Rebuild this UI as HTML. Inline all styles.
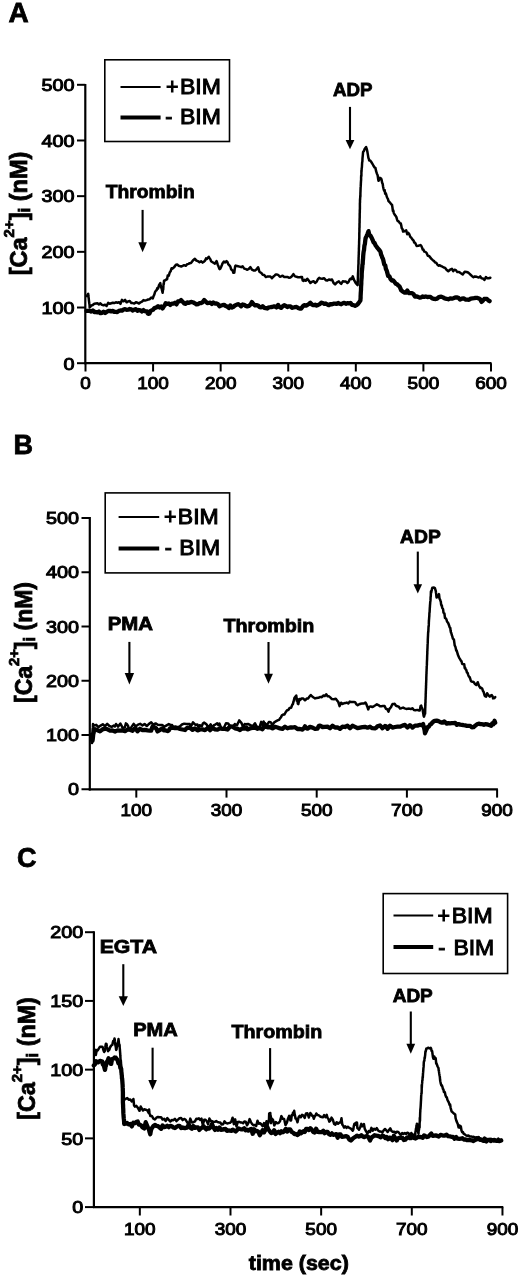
<!DOCTYPE html>
<html><head><meta charset="utf-8"><style>
html,body{margin:0;padding:0;background:#fff;width:520px;height:1278px;overflow:hidden}
svg{display:block}
text{font-family:"Liberation Sans",sans-serif;fill:#000;stroke:#000;stroke-width:0.8px}
text.r{stroke-width:1.0px}
svg{filter:grayscale(1) blur(0.42px)}
</style></head><body>
<svg width="520" height="1278" viewBox="0 0 520 1278" font-family="Liberation Sans, sans-serif">
<text x="8.5" y="22" font-size="28" font-weight="bold" text-anchor="start" >A</text>
<line x1="85.3" y1="84" x2="85.3" y2="364.2" stroke="#000" stroke-width="2.2"/>
<line x1="84.3" y1="363.2" x2="491.5" y2="363.2" stroke="#000" stroke-width="2.2"/>
<line x1="77" y1="363.2" x2="85.3" y2="363.2" stroke="#000" stroke-width="2"/>
<text transform="translate(74.50,369.50) scale(1.15,1)" font-size="17.2" text-anchor="end"  class="r">0</text>
<line x1="77" y1="307.52" x2="85.3" y2="307.52" stroke="#000" stroke-width="2"/>
<text transform="translate(74.50,313.82) scale(1.15,1)" font-size="17.2" text-anchor="end"  class="r">100</text>
<line x1="77" y1="251.84" x2="85.3" y2="251.84" stroke="#000" stroke-width="2"/>
<text transform="translate(74.50,258.14) scale(1.15,1)" font-size="17.2" text-anchor="end"  class="r">200</text>
<line x1="77" y1="196.16" x2="85.3" y2="196.16" stroke="#000" stroke-width="2"/>
<text transform="translate(74.50,202.46) scale(1.15,1)" font-size="17.2" text-anchor="end"  class="r">300</text>
<line x1="77" y1="140.48000000000002" x2="85.3" y2="140.48000000000002" stroke="#000" stroke-width="2"/>
<text transform="translate(74.50,146.78) scale(1.15,1)" font-size="17.2" text-anchor="end"  class="r">400</text>
<line x1="77" y1="84.80000000000001" x2="85.3" y2="84.80000000000001" stroke="#000" stroke-width="2"/>
<text transform="translate(74.50,91.10) scale(1.15,1)" font-size="17.2" text-anchor="end"  class="r">500</text>
<line x1="85.5" y1="363.2" x2="85.5" y2="371.5" stroke="#000" stroke-width="2"/>
<text transform="translate(85.50,389.30) scale(1.1,1)" font-size="17.2" text-anchor="middle"  class="r">0</text>
<line x1="153.07999999999998" y1="363.2" x2="153.07999999999998" y2="371.5" stroke="#000" stroke-width="2"/>
<text transform="translate(153.08,389.30) scale(1.1,1)" font-size="17.2" text-anchor="middle"  class="r">100</text>
<line x1="220.66" y1="363.2" x2="220.66" y2="371.5" stroke="#000" stroke-width="2"/>
<text transform="translate(220.66,389.30) scale(1.1,1)" font-size="17.2" text-anchor="middle"  class="r">200</text>
<line x1="288.24" y1="363.2" x2="288.24" y2="371.5" stroke="#000" stroke-width="2"/>
<text transform="translate(288.24,389.30) scale(1.1,1)" font-size="17.2" text-anchor="middle"  class="r">300</text>
<line x1="355.82" y1="363.2" x2="355.82" y2="371.5" stroke="#000" stroke-width="2"/>
<text transform="translate(355.82,389.30) scale(1.1,1)" font-size="17.2" text-anchor="middle"  class="r">400</text>
<line x1="423.4" y1="363.2" x2="423.4" y2="371.5" stroke="#000" stroke-width="2"/>
<text transform="translate(423.40,389.30) scale(1.1,1)" font-size="17.2" text-anchor="middle"  class="r">500</text>
<line x1="490.97999999999996" y1="363.2" x2="490.97999999999996" y2="371.5" stroke="#000" stroke-width="2"/>
<text transform="translate(490.98,389.30) scale(1.1,1)" font-size="17.2" text-anchor="middle"  class="r">600</text>
<text transform="translate(26.5,275.3) rotate(-90) scale(1.0,1)" font-size="23.5" font-weight="bold">[Ca<tspan font-size="15.0" dy="-12.7">2+</tspan><tspan dy="12.7">]</tspan><tspan font-size="16.9" dy="3.3">i</tspan><tspan dy="-3.3"> (nM)</tspan></text>
<rect x="104.8" y="59.8" width="124.7" height="81.7" fill="none" stroke="#000" stroke-width="1.6"/><line x1="120.5" y1="87" x2="160.6" y2="87" stroke="#000" stroke-width="2"/><line x1="120.5" y1="117.6" x2="160.6" y2="117.6" stroke="#000" stroke-width="4"/><text x="166" y="94" font-size="21.3" text-anchor="start"  class="r">+</text><text x="165.3" y="124.2" font-size="21.3" text-anchor="start"  class="r">-</text><text transform="translate(180.00,94.00) scale(1.08,1)" font-size="21.3" text-anchor="start"  class="r">BIM</text><text transform="translate(180.00,124.20) scale(1.08,1)" font-size="21.3" text-anchor="start"  class="r">BIM</text>
<line x1="142.6" y1="209.9" x2="142.6" y2="243.3" stroke="#000" stroke-width="2.1"/><path d="M138.3,242.3 L146.9,242.3 L142.6,252.2 Z" fill="#000"/>
<line x1="350" y1="106.9" x2="350" y2="141" stroke="#000" stroke-width="2.1"/><path d="M345.6,140.0 L354.4,140.0 L350.0,149.2 Z" fill="#000"/>
<polyline points="86.5,296.0 87.2,295.4 88.0,294.0 88.2,293.7 88.4,296.0 88.6,297.5 88.8,299.0 88.9,300.3 89.1,301.8 89.3,303.5 89.5,304.5 89.7,307.6 91.2,305.7 92.8,305.0 94.3,303.8 95.8,303.5 97.4,303.3 98.9,304.4 100.4,303.4 102.0,304.9 103.5,305.3 105.1,304.8 106.6,305.9 108.2,302.9 109.7,303.8 111.3,303.3 112.8,302.8 114.3,303.1 115.9,302.3 117.4,302.7 119.0,302.2 120.5,303.8 122.0,299.8 123.6,301.3 125.1,299.9 126.6,302.3 128.2,301.4 129.7,300.9 131.3,303.1 132.8,303.1 134.3,303.6 135.9,302.2 137.4,302.7 139.0,303.6 140.5,302.3 142.0,301.7 143.5,300.1 145.0,300.6 146.6,300.1 148.1,299.5 149.7,299.2 151.2,297.6 152.8,298.4 153.6,296.0 154.3,294.6 155.1,291.9 155.8,290.8 156.6,290.2 157.4,288.0 158.1,288.5 158.9,285.5 160.3,283.1 160.8,286.1 161.2,287.6 161.7,288.8 162.1,290.8 162.6,292.7 162.8,291.3 163.0,289.1 163.2,289.8 163.4,286.3 163.6,283.5 163.8,284.1 164.0,280.8 164.2,281.0 166.5,279.4 167.1,279.2 167.7,275.6 168.2,275.5 168.8,275.7 169.7,272.5 170.6,271.3 171.6,268.2 172.5,268.7 173.4,267.8 174.7,266.5 175.9,264.7 177.2,264.5 178.5,265.7 179.9,266.1 181.2,266.5 182.6,265.9 184.1,265.2 185.7,265.8 187.2,264.2 188.5,263.9 189.7,263.2 191.0,263.0 192.9,260.5 194.9,258.8 196.4,260.6 198.0,261.2 199.5,262.3 201.1,261.3 202.6,262.6 204.2,261.4 205.1,260.5 206.0,258.4 207.0,258.9 207.9,257.9 208.8,256.8 209.6,258.1 210.3,259.1 211.1,261.2 211.8,261.7 213.4,262.7 214.9,263.6 216.5,261.1 217.1,262.5 217.7,264.7 218.3,265.9 218.9,267.6 219.5,269.1 220.3,268.6 221.1,267.0 221.8,265.3 222.6,263.2 223.9,261.6 225.2,262.5 226.5,261.1 227.4,262.0 228.4,264.4 229.4,265.4 230.3,266.5 231.1,269.2 231.9,270.1 232.6,270.6 233.4,272.8 233.9,271.6 234.3,272.7 234.8,268.7 235.2,266.3 235.7,265.6 238.0,266.2 239.6,266.6 241.2,267.2 242.7,266.4 244.2,268.6 245.8,269.0 247.3,269.8 248.8,268.9 250.4,267.1 251.9,269.6 253.5,270.4 255.0,270.6 256.6,269.3 258.1,267.2 258.6,268.6 259.1,270.8 259.6,272.0 261.2,272.8 262.7,274.7 264.2,275.0 265.8,277.1 267.3,276.6 268.9,276.4 270.4,276.5 271.9,278.2 273.2,276.8 274.5,275.7 275.8,274.5 277.1,274.5 278.5,275.2 279.9,276.8 281.2,276.3 282.7,275.8 284.2,276.9 285.8,277.1 287.3,276.9 288.8,277.7 290.4,277.4 291.9,276.3 293.4,274.1 295.0,276.4 296.5,276.8 298.1,277.2 299.6,277.3 301.2,277.0 302.0,276.9 302.7,280.5 303.5,281.0 304.6,279.8 305.8,280.8 307.3,278.7 308.9,280.8 310.4,283.0 311.9,281.8 313.5,281.2 315.1,282.9 316.6,281.8 317.9,279.2 319.2,277.9 320.5,278.6 322.3,278.7 324.0,278.2 325.8,280.2 327.4,280.6 328.9,279.5 330.5,280.0 332.0,279.5 333.6,283.0 335.1,284.4 337.0,282.3 338.9,281.4 340.0,282.8 341.2,283.9 342.8,281.3 344.3,281.4 345.9,281.6 347.4,283.0 348.5,282.1 349.6,279.7 350.6,278.6 351.7,279.1 352.8,276.3 353.6,278.9 354.3,280.4 355.1,281.9 355.8,283.2 357.6,285.1 357.7,284.5 357.7,281.5 357.8,281.1 357.8,280.2 357.9,278.3 357.9,277.2 358.0,274.8 358.0,274.4 358.1,272.1 358.2,271.1 358.2,270.2 358.3,268.4 358.3,267.1 358.4,264.5 358.4,265.0 358.5,263.7 358.5,260.7 358.6,259.4 358.6,257.8 358.7,256.5 358.7,255.0 358.8,254.9 358.8,251.9 358.9,251.1 358.9,250.4 358.9,248.2 359.0,247.0 359.0,245.5 359.1,244.3 359.1,242.3 359.2,239.9 359.2,239.2 359.2,239.2 359.3,237.5 359.3,238.7 359.3,234.1 359.3,232.8 359.4,232.3 359.4,230.0 359.4,228.1 359.5,227.6 359.5,224.9 359.5,223.6 359.6,222.9 359.6,222.4 359.6,218.8 359.6,219.5 359.7,217.2 359.7,216.0 359.7,213.6 359.8,212.5 359.8,212.2 359.8,209.8 359.9,209.2 359.9,206.8 359.9,206.1 359.9,203.1 360.0,202.6 360.0,199.5 360.1,200.1 360.1,198.7 360.2,198.0 360.3,195.4 360.4,196.4 360.4,193.4 360.5,191.3 360.6,188.0 360.6,187.7 360.7,186.7 360.8,185.1 360.9,182.0 360.9,182.9 361.0,180.6 361.1,180.2 361.1,177.8 361.2,175.4 361.3,176.4 361.4,175.3 361.4,170.4 361.5,171.9 361.6,170.5 361.7,168.2 361.9,167.3 362.0,165.3 362.1,163.3 362.2,162.2 362.4,161.3 362.5,158.4 362.6,157.4 362.7,156.3 362.9,154.3 363.0,152.9 363.1,152.1 363.9,151.0 364.6,149.1 365.4,148.0 366.1,147.1 366.9,149.5 367.3,151.3 367.7,153.6 368.0,155.4 368.4,157.9 368.8,158.7 369.2,160.6 370.2,160.6 371.3,162.0 372.3,163.6 373.1,165.0 373.8,166.3 374.6,167.5 375.4,167.8 376.1,171.2 376.9,173.7 377.2,174.3 377.4,174.7 377.7,175.7 378.0,177.8 378.2,179.2 378.5,180.8 379.3,179.5 380.0,177.8 380.8,178.6 381.2,178.6 381.6,179.8 382.0,182.1 382.3,183.1 382.7,183.9 383.1,186.7 383.6,189.1 384.1,190.6 384.6,190.0 385.2,193.7 385.7,193.2 386.2,194.5 386.8,196.8 387.4,198.1 387.9,198.9 388.5,201.1 389.5,202.0 390.5,203.2 391.5,204.5 392.0,204.8 392.4,207.1 392.9,211.1 393.3,210.6 393.8,213.1 394.4,214.1 395.1,215.3 395.8,216.1 396.4,217.2 397.1,219.7 397.7,221.0 398.7,221.4 399.8,223.2 400.8,223.5 401.3,225.6 401.7,228.0 402.2,228.8 402.6,229.4 403.1,231.6 404.6,231.2 406.2,230.3 407.2,234.2 408.2,232.8 409.2,234.0 410.4,237.1 411.4,237.8 412.5,239.6 413.5,240.4 414.2,242.5 415.0,242.7 415.8,244.1 416.5,245.9 418.4,245.7 420.4,245.1 421.2,245.7 421.9,247.2 422.7,249.5 423.4,249.4 424.2,251.6 425.4,251.9 426.6,252.9 427.8,255.7 429.0,255.9 430.4,257.6 431.7,259.2 432.8,260.2 434.0,261.1 435.1,262.6 436.2,262.7 437.4,264.6 438.5,265.7 439.8,265.3 441.2,266.1 442.5,266.7 443.8,267.5 445.2,267.9 446.5,269.7 448.3,271.2 450.1,269.7 451.9,268.9 453.2,271.2 454.6,269.7 455.9,270.1 457.3,272.1 459.1,271.9 460.9,273.3 462.7,274.5 464.7,271.7 466.7,272.0 468.1,272.5 469.4,273.7 470.8,275.0 472.1,276.2 473.5,277.2 474.8,276.4 476.8,276.8 478.8,277.6 480.2,276.4 481.5,278.2 482.9,278.4 484.4,280.0 485.9,277.0 487.3,278.3 488.8,278.2 490.3,277.7" fill="none" stroke="#000" stroke-width="2.5" stroke-linejoin="round" stroke-linecap="round"/>
<polyline points="86.6,310.8 88.1,310.9 89.7,310.8 91.2,311.6 92.8,310.5 94.3,312.2 95.8,312.0 97.4,312.4 98.9,311.5 100.5,313.2 102.0,312.8 103.5,311.8 105.1,313.0 106.6,311.9 108.2,311.0 109.7,310.9 111.2,311.4 112.8,310.9 114.3,311.9 115.8,311.8 117.3,312.1 118.9,310.9 120.4,310.5 122.0,310.7 123.5,309.6 125.1,309.2 126.6,309.8 128.2,309.7 129.7,309.0 131.3,309.4 132.8,310.6 134.3,309.5 135.9,309.2 137.4,310.8 138.9,310.0 140.4,310.3 142.0,311.5 143.5,310.1 145.2,311.4 147.0,311.5 147.9,313.7 148.9,313.9 149.4,313.5 150.0,312.3 150.5,310.9 152.8,309.9 154.5,308.1 156.3,307.5 158.0,306.2 159.5,307.5 161.1,306.4 162.6,308.4 163.6,306.6 164.7,305.3 165.7,303.2 167.2,303.9 168.8,303.5 170.3,305.0 171.9,303.6 173.4,303.6 174.9,302.8 176.4,304.4 178.0,301.5 179.5,301.3 181.0,300.1 182.6,301.7 184.1,303.4 185.7,303.8 187.2,302.3 188.8,302.9 190.3,302.2 191.8,302.0 193.4,302.5 194.9,303.3 196.5,304.4 198.0,304.1 199.6,303.2 201.1,303.0 202.6,302.3 204.2,300.1 205.7,301.6 207.2,303.1 208.8,302.9 210.3,302.6 211.8,304.0 213.3,302.4 214.9,303.6 216.4,303.4 218.0,304.2 219.5,306.2 221.0,305.5 222.6,305.2 224.1,304.8 225.7,306.0 227.2,306.6 228.8,308.0 230.3,305.4 231.9,307.6 233.4,306.9 235.0,305.4 236.5,304.8 238.1,304.1 239.6,305.0 241.1,306.3 242.7,304.5 244.2,304.8 245.8,305.9 247.3,306.4 248.8,306.0 250.4,304.7 251.9,302.1 253.5,304.1 255.0,305.4 256.6,305.2 258.1,305.5 259.6,307.2 261.2,307.4 262.7,306.2 264.3,307.8 265.8,308.1 267.3,308.5 268.9,307.3 270.4,307.2 271.9,307.0 273.5,306.5 275.0,306.5 276.5,307.4 278.1,304.9 279.6,307.1 281.1,307.9 282.7,306.3 284.2,305.2 285.8,306.0 287.3,307.0 288.9,306.3 290.4,306.4 291.9,307.8 293.5,307.5 295.0,307.2 296.6,307.0 298.1,307.9 299.6,308.5 301.2,308.5 302.7,306.4 304.2,305.1 305.8,305.7 307.3,305.0 308.9,304.0 310.4,302.8 311.9,304.5 313.5,305.2 315.1,304.7 316.6,305.6 318.1,305.0 319.7,304.1 321.2,302.7 322.8,303.0 324.3,303.9 325.8,303.5 327.4,304.5 328.9,305.2 330.4,304.1 332.0,304.3 333.5,303.7 335.1,303.6 336.6,303.9 338.1,303.0 339.7,303.8 341.2,304.3 342.8,303.3 344.3,302.8 345.9,303.8 347.4,303.1 348.9,303.4 350.5,303.0 352.0,304.8 353.5,305.1 355.1,305.8 356.6,305.1 357.6,304.3 358.5,303.2 360.4,300.6 360.5,298.8 360.6,298.2 360.6,296.1 360.7,294.6 360.8,292.3 360.9,291.5 361.0,289.6 361.0,288.5 361.1,286.2 361.2,285.1 361.3,283.7 361.3,281.5 361.4,280.3 361.5,278.7 361.6,278.1 361.7,275.8 361.7,273.8 361.8,272.5 361.9,270.5 362.0,270.2 362.2,268.0 362.3,267.0 362.4,264.9 362.6,264.0 362.7,264.1 362.8,261.3 363.0,259.3 363.1,257.8 363.2,255.8 363.4,253.7 363.5,252.6 363.7,251.3 364.0,250.2 364.2,247.9 364.4,245.7 364.6,245.0 364.9,244.1 365.1,241.9 365.3,240.2 365.6,238.1 365.8,237.7 366.7,235.9 367.6,233.7 368.5,231.1 369.4,235.1 370.4,235.5 371.2,237.0 371.9,238.3 372.7,240.1 373.5,242.2 374.5,243.0 375.5,245.2 376.5,246.6 378.1,248.7 379.6,250.5 380.1,251.0 380.6,252.3 381.1,254.7 381.7,255.8 382.2,257.5 382.7,258.3 383.2,259.7 383.7,262.0 384.2,264.4 384.8,265.0 385.3,265.5 385.8,268.6 386.3,269.8 386.7,270.5 387.2,272.4 387.6,273.9 388.1,275.9 389.4,276.3 390.6,279.1 391.9,280.6 393.2,280.5 394.5,281.9 395.8,283.7 397.1,284.2 398.3,285.6 399.6,286.5 400.4,288.4 401.2,290.3 402.7,291.4 404.3,292.5 405.8,292.7 407.3,290.6 408.9,293.0 410.4,293.2 411.9,293.1 413.4,294.0 415.0,296.6 416.5,296.4 418.0,296.8 419.6,297.6 421.1,297.3 422.7,296.5 424.2,296.9 425.8,296.5 427.3,297.0 428.8,296.8 430.4,296.9 432.2,298.4 434.0,298.8 435.8,299.0 437.1,298.6 438.5,297.3 439.9,296.8 441.2,296.6 443.0,297.4 444.7,298.4 446.5,298.8 448.3,299.3 450.1,298.4 451.9,298.7 453.3,298.2 454.6,297.7 456.0,297.5 457.3,297.5 458.7,298.1 460.0,299.5 461.8,298.7 463.6,298.3 465.4,299.6 467.2,299.7 469.0,299.8 470.8,298.6 472.5,298.4 474.1,298.2 475.8,297.8 477.5,297.9 478.8,298.4 480.2,299.3 481.5,301.9 482.9,300.6 484.2,299.0 485.6,298.8 486.9,298.9 488.3,300.4 489.6,301.2" fill="none" stroke="#000" stroke-width="4.3" stroke-linejoin="round" stroke-linecap="round"/>
<text transform="translate(105.77,198.10) scale(1.043,1)" font-size="18.5" font-weight="bold" text-anchor="start" >Thrombin</text>
<text transform="translate(332.97,96.10) scale(1.011,1)" font-size="18.5" font-weight="bold" text-anchor="start" >ADP</text>
<text transform="translate(107.65,630.10) scale(1.102,1)" font-size="18.5" font-weight="bold" text-anchor="start" >PMA</text>
<text transform="translate(223.38,631.50) scale(1.066,1)" font-size="18.5" font-weight="bold" text-anchor="start" >Thrombin</text>
<text transform="translate(400.06,542.50) scale(1.043,1)" font-size="18.5" font-weight="bold" text-anchor="start" >ADP</text>
<text transform="translate(99.69,952.90) scale(1.147,1)" font-size="18.5" font-weight="bold" text-anchor="start" >EGTA</text>
<text transform="translate(133.22,1036.00) scale(1.085,1)" font-size="18.5" font-weight="bold" text-anchor="start" >PMA</text>
<text transform="translate(231.39,1037.60) scale(1.065,1)" font-size="18.5" font-weight="bold" text-anchor="start" >Thrombin</text>
<text transform="translate(392.66,1002.00) scale(1.028,1)" font-size="18.5" font-weight="bold" text-anchor="start" >ADP</text>
<text transform="translate(248.75,1270.20) scale(1.072,1)" font-size="20.0" font-weight="bold" text-anchor="start" >time (sec)</text>
<text x="13.5" y="453.5" font-size="27" font-weight="bold" text-anchor="start" >B</text>
<line x1="89.8" y1="517" x2="89.8" y2="790.4" stroke="#000" stroke-width="2.2"/>
<line x1="88.8" y1="789.4" x2="497.9" y2="789.4" stroke="#000" stroke-width="2.2"/>
<line x1="81.5" y1="789.25" x2="89.8" y2="789.25" stroke="#000" stroke-width="2"/>
<text transform="translate(79.00,795.45) scale(1.15,1)" font-size="17.2" text-anchor="end"  class="r">0</text>
<line x1="81.5" y1="735.0" x2="89.8" y2="735.0" stroke="#000" stroke-width="2"/>
<text transform="translate(79.00,741.20) scale(1.15,1)" font-size="17.2" text-anchor="end"  class="r">100</text>
<line x1="81.5" y1="680.75" x2="89.8" y2="680.75" stroke="#000" stroke-width="2"/>
<text transform="translate(79.00,686.95) scale(1.15,1)" font-size="17.2" text-anchor="end"  class="r">200</text>
<line x1="81.5" y1="626.5" x2="89.8" y2="626.5" stroke="#000" stroke-width="2"/>
<text transform="translate(79.00,632.70) scale(1.15,1)" font-size="17.2" text-anchor="end"  class="r">300</text>
<line x1="81.5" y1="572.25" x2="89.8" y2="572.25" stroke="#000" stroke-width="2"/>
<text transform="translate(79.00,578.45) scale(1.15,1)" font-size="17.2" text-anchor="end"  class="r">400</text>
<line x1="81.5" y1="518.0" x2="89.8" y2="518.0" stroke="#000" stroke-width="2"/>
<text transform="translate(79.00,524.20) scale(1.15,1)" font-size="17.2" text-anchor="end"  class="r">500</text>
<line x1="136.3" y1="789.4" x2="136.3" y2="797.6" stroke="#000" stroke-width="2"/>
<text transform="translate(136.30,816.30) scale(1.1,1)" font-size="17.2" text-anchor="middle"  class="r">100</text>
<line x1="226.5" y1="789.4" x2="226.5" y2="797.6" stroke="#000" stroke-width="2"/>
<text transform="translate(226.50,816.30) scale(1.1,1)" font-size="17.2" text-anchor="middle"  class="r">300</text>
<line x1="316.7" y1="789.4" x2="316.7" y2="797.6" stroke="#000" stroke-width="2"/>
<text transform="translate(316.70,816.30) scale(1.1,1)" font-size="17.2" text-anchor="middle"  class="r">500</text>
<line x1="406.9" y1="789.4" x2="406.9" y2="797.6" stroke="#000" stroke-width="2"/>
<text transform="translate(406.90,816.30) scale(1.1,1)" font-size="17.2" text-anchor="middle"  class="r">700</text>
<line x1="497.1" y1="789.4" x2="497.1" y2="797.6" stroke="#000" stroke-width="2"/>
<text transform="translate(497.10,816.30) scale(1.1,1)" font-size="17.2" text-anchor="middle"  class="r">900</text>
<text transform="translate(31.7,703) rotate(-90) scale(1.0,1)" font-size="23" font-weight="bold">[Ca<tspan font-size="14.7" dy="-12.4">2+</tspan><tspan dy="12.4">]</tspan><tspan font-size="16.6" dy="3.2">i</tspan><tspan dy="-3.2"> (nM)</tspan></text>
<rect x="105.2" y="492.9" width="124.39999999999999" height="80.0" fill="none" stroke="#000" stroke-width="1.6"/><line x1="118.6" y1="516.9" x2="159.2" y2="516.9" stroke="#000" stroke-width="2"/><line x1="118.6" y1="548.6" x2="159.2" y2="548.6" stroke="#000" stroke-width="4"/><text x="164.1" y="524.3" font-size="21.3" text-anchor="start"  class="r">+</text><text x="164.7" y="555.4" font-size="21.3" text-anchor="start"  class="r">-</text><text transform="translate(177.80,524.30) scale(1.08,1)" font-size="21.3" text-anchor="start"  class="r">BIM</text><text transform="translate(179.30,555.40) scale(1.08,1)" font-size="21.3" text-anchor="start"  class="r">BIM</text>
<line x1="129.4" y1="641.9" x2="129.4" y2="674" stroke="#000" stroke-width="2.1"/><path d="M124.7,673.0 L134.1,673.0 L129.4,684.6 Z" fill="#000"/>
<line x1="268.5" y1="642" x2="268.5" y2="674.8" stroke="#000" stroke-width="2.1"/><path d="M264.1,673.8 L272.9,673.8 L268.5,683.7 Z" fill="#000"/>
<line x1="417.8" y1="551.6" x2="417.8" y2="585.2" stroke="#000" stroke-width="2.1"/><path d="M413.5,584.2 L422.1,584.2 L417.8,593.5 Z" fill="#000"/>
<polyline points="91.0,738.0 91.5,740.1 92.0,743.1 92.1,742.3 92.2,738.9 92.2,738.7 92.3,736.3 92.4,734.6 92.5,733.1 92.6,730.7 92.7,728.5 92.8,731.0 92.8,728.2 92.9,727.4 93.0,724.0 94.0,725.6 96.2,724.8 98.4,727.2 100.6,725.6 102.8,724.3 105.0,726.2 107.2,723.8 109.4,726.0 111.6,726.9 113.8,725.6 114.9,726.5 116.0,724.0 118.2,726.6 120.4,723.6 121.5,725.6 122.6,727.9 124.8,727.5 125.9,723.4 127.0,724.3 128.1,725.9 129.2,730.3 131.4,727.1 133.6,723.9 135.8,726.3 138.0,724.7 140.2,723.8 142.4,725.4 144.6,724.0 146.8,726.0 149.0,723.9 151.2,722.4 153.4,724.9 155.6,723.4 157.8,724.8 160.0,725.0 162.2,724.9 164.4,726.8 166.6,725.4 168.8,724.1 171.0,725.2 172.1,725.1 173.2,727.3 175.4,726.4 177.6,727.1 179.8,726.5 182.0,724.5 184.2,723.7 186.4,723.9 188.6,723.9 189.7,724.1 190.8,726.7 193.0,722.4 195.2,724.7 197.4,724.5 198.5,727.7 199.6,725.2 201.8,726.2 202.9,723.5 204.0,722.6 206.2,724.1 207.3,725.6 208.4,727.6 210.6,724.4 212.8,727.9 213.9,725.1 215.0,724.8 217.2,723.3 218.3,725.1 219.4,723.5 221.6,729.0 223.8,728.0 226.0,723.3 228.2,723.4 229.3,725.1 230.4,727.2 232.6,726.0 233.7,726.3 234.8,724.0 237.0,725.3 239.2,720.4 241.4,722.8 242.5,725.6 243.6,726.7 244.7,724.1 245.8,724.2 248.0,724.0 250.0,724.9 251.7,725.8 253.3,725.5 255.0,723.3 256.5,726.4 258.1,727.2 259.6,727.0 261.2,721.9 262.7,725.5 263.6,721.4 264.6,723.8 265.2,723.4 265.9,724.4 266.5,726.6 267.7,723.9 268.8,722.1 270.0,722.0 271.1,722.6 272.3,725.6 274.2,722.3 276.2,721.2 278.1,720.2 279.1,719.8 280.0,718.3 280.9,717.4 281.9,715.4 283.2,714.6 284.5,714.4 285.8,712.0 287.1,710.2 288.3,710.0 289.6,708.0 291.1,707.8 292.5,704.3 292.9,704.1 293.3,702.4 293.6,701.5 294.0,699.7 294.4,698.1 296.3,695.5 296.8,700.8 297.3,698.7 297.8,703.7 298.3,704.2 298.9,701.3 299.6,699.0 300.2,700.0 301.6,698.4 303.1,698.4 305.0,700.3 306.9,698.5 308.2,698.4 309.5,696.5 310.8,695.0 312.2,696.5 313.6,697.5 315.1,698.4 316.5,698.0 318.4,697.8 320.4,696.9 321.8,697.2 323.3,695.5 324.8,696.1 326.2,694.3 327.6,696.3 329.0,696.3 330.5,697.7 331.9,699.1 333.9,699.2 335.8,698.7 337.1,700.4 338.3,702.0 339.6,706.1 341.1,702.7 342.5,704.0 343.9,703.3 345.4,703.1 346.8,702.6 348.3,703.5 349.8,701.6 351.2,702.0 353.8,701.9 355.1,702.2 356.4,704.2 357.7,705.2 359.2,704.3 360.8,703.8 362.3,703.4 363.9,703.5 365.4,702.5 366.3,704.0 367.3,706.7 368.2,709.4 369.2,707.0 370.7,706.4 372.3,707.0 373.8,706.3 375.4,705.3 376.9,704.3 378.4,705.1 380.0,706.3 381.5,706.3 383.1,705.9 384.6,706.1 385.9,708.8 387.2,709.2 388.5,711.6 389.3,709.1 390.1,708.1 390.9,707.4 391.7,705.6 392.5,704.1 393.3,704.1 394.6,703.8 396.0,705.8 397.3,706.2 398.7,706.6 400.0,708.4 401.5,708.2 403.1,707.6 404.6,708.4 406.2,708.9 407.7,708.7 409.2,708.6 410.8,709.1 412.3,708.2 413.9,710.0 415.4,710.3 417.3,709.9 419.2,710.6 419.7,710.5 420.2,708.1 420.7,705.8 421.2,705.6 421.6,707.4 421.9,707.7 422.2,708.4 422.6,709.2 422.9,711.5 423.3,713.5 423.6,715.8 424.0,716.7 425.0,713.1 425.1,712.5 425.1,713.8 425.2,709.5 425.2,708.8 425.3,707.5 425.3,703.6 425.4,705.5 425.4,702.6 425.5,702.8 425.5,699.4 425.6,699.4 425.6,697.9 425.7,696.2 425.7,693.7 425.8,693.4 425.8,691.6 425.9,690.1 425.9,688.8 426.0,687.9 426.0,685.8 426.1,685.3 426.1,683.4 426.2,682.1 426.2,681.0 426.3,679.7 426.3,678.1 426.4,675.1 426.4,674.5 426.5,673.7 426.5,672.0 426.6,670.8 426.6,670.0 426.7,668.0 426.7,666.5 426.8,665.7 426.9,664.7 426.9,663.2 427.0,660.3 427.0,661.2 427.1,658.7 427.1,658.2 427.2,655.0 427.3,654.0 427.3,651.1 427.4,651.0 427.4,649.2 427.5,648.2 427.5,647.7 427.6,644.7 427.7,643.4 427.7,643.4 427.8,640.8 427.8,639.3 427.9,637.7 427.9,637.4 428.0,635.7 428.1,633.5 428.2,631.5 428.3,632.3 428.4,630.0 428.5,627.7 428.6,626.2 428.7,626.5 428.8,624.9 428.9,620.2 428.9,621.9 429.0,619.8 429.1,618.7 429.2,617.1 429.3,616.3 429.4,613.0 429.5,612.4 429.6,612.4 429.7,610.1 429.8,607.9 429.9,607.0 430.0,604.9 430.1,604.3 430.2,602.4 430.4,601.0 430.5,600.1 430.6,596.8 430.7,596.8 430.8,595.6 430.9,591.5 431.2,592.8 431.5,591.0 431.7,590.4 432.0,588.9 432.3,587.7 434.0,587.6 434.9,588.1 435.8,591.2 436.0,593.0 436.2,593.8 436.4,596.3 436.6,597.5 437.5,596.6 438.4,595.9 439.0,594.1 439.5,598.6 440.1,599.6 440.4,600.8 440.8,601.5 441.1,604.3 441.5,605.5 441.8,605.3 442.2,607.9 442.7,608.5 443.1,609.3 443.5,612.7 444.0,613.2 444.4,613.5 445.0,618.0 445.7,618.4 446.4,619.2 447.0,621.5 447.6,622.3 448.3,623.3 449.0,625.2 449.6,627.0 449.9,627.7 450.3,627.9 450.6,630.8 451.0,632.7 451.3,633.0 451.8,635.0 452.3,636.4 452.9,638.7 453.4,639.2 453.9,639.4 454.3,642.3 454.7,645.4 455.0,646.0 455.4,646.8 455.8,648.5 456.2,650.5 456.7,650.6 457.2,652.3 457.7,654.2 458.2,655.4 459.2,657.9 460.2,659.4 460.9,660.8 461.5,661.3 462.2,663.9 464.2,664.2 464.7,668.0 465.1,667.6 465.6,669.4 466.3,670.0 466.9,672.4 467.6,672.8 468.3,675.1 468.9,676.6 469.6,677.0 470.3,679.0 470.9,681.0 471.6,681.6 473.6,682.0 475.0,684.0 476.3,685.0 477.7,682.2 479.0,685.9 480.4,688.0 481.3,687.8 482.2,688.7 483.1,691.3 483.6,691.7 484.1,693.7 484.6,695.5 485.1,696.2 486.1,696.7 487.1,693.3 488.5,695.4 489.8,696.7 490.8,695.4 491.8,695.1 492.5,696.1 493.1,698.4 493.8,697.6 494.5,698.1 495.2,697.1" fill="none" stroke="#000" stroke-width="2.5" stroke-linejoin="round" stroke-linecap="round"/>
<polyline points="91.0,735.0 91.5,736.7 92.0,738.6 92.5,740.6 92.8,738.6 93.0,736.7 93.2,734.5 93.5,733.5 93.8,731.9 94.0,730.6 95.0,729.1 97.5,730.2 100.0,731.4 102.5,729.4 105.0,728.6 107.5,729.3 110.0,730.6 112.5,730.5 115.0,731.5 117.5,730.4 120.0,730.7 122.5,730.4 125.0,731.2 127.5,729.5 130.0,729.7 131.2,730.3 132.5,730.8 133.8,729.4 135.0,728.2 136.2,729.2 137.5,731.3 138.8,730.0 140.0,728.8 142.5,730.2 145.0,729.8 147.5,730.3 150.0,730.7 151.2,730.7 152.5,726.6 155.0,727.6 156.2,728.4 157.5,731.4 160.0,729.9 162.5,728.4 163.8,730.4 165.0,730.2 167.5,731.1 168.8,730.3 170.0,728.3 172.5,727.6 175.0,728.2 177.5,728.1 180.0,729.0 182.5,729.5 185.0,730.0 186.2,728.6 187.5,727.6 190.0,727.8 192.5,729.9 195.0,728.4 197.5,730.4 200.0,729.4 202.5,729.4 205.0,730.1 207.5,728.2 208.8,727.4 210.0,730.3 212.5,727.9 215.0,729.3 217.5,729.6 220.0,728.3 222.5,728.8 225.0,728.9 227.5,729.5 230.0,726.5 232.5,726.6 235.0,728.3 237.5,728.8 240.0,730.0 242.5,728.3 245.0,728.5 246.2,727.5 247.5,729.4 250.0,728.4 252.5,728.0 255.0,727.6 257.5,728.8 260.0,728.0 262.5,729.2 263.8,727.1 265.0,726.4 267.5,727.3 270.0,727.0 272.5,728.4 273.8,727.6 275.0,726.8 277.5,727.5 280.0,728.4 282.5,728.8 285.0,726.7 287.5,728.3 290.0,727.5 292.5,727.5 295.0,727.1 297.5,729.0 300.0,729.0 302.5,729.6 303.8,728.3 305.0,726.3 306.2,728.2 307.5,728.6 310.0,726.9 312.5,727.6 315.0,728.9 317.5,728.7 318.8,725.8 320.0,725.6 322.5,727.0 325.0,726.9 327.5,726.6 330.0,728.2 332.5,725.7 335.0,727.5 337.5,727.4 340.0,728.8 342.5,726.6 345.0,727.0 347.5,725.7 350.0,728.3 352.5,725.8 355.0,726.9 357.5,728.2 360.0,727.7 362.5,727.2 365.0,726.8 367.5,727.7 370.0,726.7 371.2,727.6 372.5,728.2 375.0,728.4 376.2,727.7 377.5,726.3 380.0,725.4 382.5,728.2 385.0,726.0 386.2,726.4 387.5,728.8 390.0,725.7 392.5,727.6 395.0,727.0 397.5,726.6 400.0,726.7 402.5,725.6 405.0,724.9 407.5,727.5 410.0,725.2 411.2,726.1 412.5,727.6 415.0,725.6 417.5,725.6 420.0,724.8 421.6,725.3 423.1,724.0 423.5,725.4 423.9,726.6 424.2,728.6 424.6,730.3 425.0,733.3 425.9,731.1 426.9,728.8 427.9,726.9 428.8,726.8 430.0,724.7 431.1,724.1 432.3,722.6 433.4,721.6 434.6,720.8 436.6,720.7 438.5,721.2 439.9,721.9 441.4,722.5 442.8,722.6 444.2,721.4 446.7,723.6 448.4,723.1 450.1,723.3 451.8,723.1 453.5,723.1 455.2,722.8 456.9,724.9 458.5,724.1 460.2,724.6 461.9,724.8 463.5,725.2 465.2,725.4 466.9,725.8 468.6,725.8 470.2,725.9 471.9,727.3 473.6,727.2 475.3,725.7 477.0,724.3 478.7,723.7 480.4,724.1 482.1,724.2 483.8,724.8 485.4,724.1 487.1,724.4 489.1,725.0 491.1,725.7 492.2,723.4 493.4,724.2 494.5,720.8 495.2,722.7" fill="none" stroke="#000" stroke-width="4.3" stroke-linejoin="round" stroke-linecap="round"/>
<text x="17" y="867.3" font-size="27" font-weight="bold" text-anchor="start" >C</text>
<line x1="93.9" y1="931.2" x2="93.9" y2="1208.1" stroke="#000" stroke-width="2.2"/>
<line x1="92.9" y1="1207.1" x2="503.3" y2="1207.1" stroke="#000" stroke-width="2.2"/>
<line x1="85" y1="1207.1" x2="93.9" y2="1207.1" stroke="#000" stroke-width="2"/>
<text transform="translate(83.20,1213.30) scale(1.15,1)" font-size="17.2" text-anchor="end"  class="r">0</text>
<line x1="85" y1="1138.375" x2="93.9" y2="1138.375" stroke="#000" stroke-width="2"/>
<text transform="translate(83.20,1144.58) scale(1.15,1)" font-size="17.2" text-anchor="end"  class="r">50</text>
<line x1="85" y1="1069.6499999999999" x2="93.9" y2="1069.6499999999999" stroke="#000" stroke-width="2"/>
<text transform="translate(83.20,1075.85) scale(1.15,1)" font-size="17.2" text-anchor="end"  class="r">100</text>
<line x1="85" y1="1000.925" x2="93.9" y2="1000.925" stroke="#000" stroke-width="2"/>
<text transform="translate(83.20,1007.12) scale(1.15,1)" font-size="17.2" text-anchor="end"  class="r">150</text>
<line x1="85" y1="932.1999999999998" x2="93.9" y2="932.1999999999998" stroke="#000" stroke-width="2"/>
<text transform="translate(83.20,938.40) scale(1.15,1)" font-size="17.2" text-anchor="end"  class="r">200</text>
<line x1="139.82999999999998" y1="1207.1" x2="139.82999999999998" y2="1215.5" stroke="#000" stroke-width="2"/>
<text transform="translate(139.83,1235.30) scale(1.1,1)" font-size="17.2" text-anchor="middle"  class="r">100</text>
<line x1="230.48999999999998" y1="1207.1" x2="230.48999999999998" y2="1215.5" stroke="#000" stroke-width="2"/>
<text transform="translate(230.49,1235.30) scale(1.1,1)" font-size="17.2" text-anchor="middle"  class="r">300</text>
<line x1="321.15" y1="1207.1" x2="321.15" y2="1215.5" stroke="#000" stroke-width="2"/>
<text transform="translate(321.15,1235.30) scale(1.1,1)" font-size="17.2" text-anchor="middle"  class="r">500</text>
<line x1="411.81" y1="1207.1" x2="411.81" y2="1215.5" stroke="#000" stroke-width="2"/>
<text transform="translate(411.81,1235.30) scale(1.1,1)" font-size="17.2" text-anchor="middle"  class="r">700</text>
<line x1="502.46999999999997" y1="1207.1" x2="502.46999999999997" y2="1215.5" stroke="#000" stroke-width="2"/>
<text transform="translate(502.47,1235.30) scale(1.1,1)" font-size="17.2" text-anchor="middle"  class="r">900</text>
<text transform="translate(34.9,1119.8) rotate(-90) scale(1.0,1)" font-size="23.3" font-weight="bold">[Ca<tspan font-size="14.9" dy="-12.6">2+</tspan><tspan dy="12.6">]</tspan><tspan font-size="16.8" dy="3.3">i</tspan><tspan dy="-3.3"> (nM)</tspan></text>
<rect x="383.2" y="893.6" width="124.40000000000003" height="79.89999999999998" fill="none" stroke="#000" stroke-width="1.6"/><line x1="393.5" y1="915.6" x2="433.2" y2="915.6" stroke="#000" stroke-width="2"/><line x1="393.5" y1="947" x2="433.2" y2="947" stroke="#000" stroke-width="4"/><text x="437.6" y="922.8" font-size="21.3" text-anchor="start"  class="r">+</text><text x="438.2" y="954.5" font-size="21.3" text-anchor="start"  class="r">-</text><text transform="translate(451.70,922.80) scale(1.08,1)" font-size="21.3" text-anchor="start"  class="r">BIM</text><text transform="translate(453.40,954.50) scale(1.08,1)" font-size="21.3" text-anchor="start"  class="r">BIM</text>
<line x1="123.3" y1="964.2" x2="123.3" y2="997.3" stroke="#000" stroke-width="2.1"/><path d="M118.7,996.3 L127.9,996.3 L123.3,1006.0 Z" fill="#000"/>
<line x1="152.6" y1="1047.7" x2="152.6" y2="1081" stroke="#000" stroke-width="2.1"/><path d="M148.3,1080.0 L156.9,1080.0 L152.6,1090.0 Z" fill="#000"/>
<line x1="270.1" y1="1048.1" x2="270.1" y2="1080.8" stroke="#000" stroke-width="2.1"/><path d="M265.7,1079.8 L274.5,1079.8 L270.1,1090.4 Z" fill="#000"/>
<line x1="410.8" y1="1011.5" x2="410.8" y2="1044.8" stroke="#000" stroke-width="2.1"/><path d="M406.4,1043.8 L415.2,1043.8 L410.8,1053.8 Z" fill="#000"/>
<polyline points="94.2,1049.2 94.7,1049.7 95.3,1051.0 95.8,1055.1 96.8,1049.9 97.7,1050.4 98.8,1048.6 100.0,1046.7 102.3,1046.7 102.8,1047.6 103.2,1049.6 103.7,1050.9 104.2,1052.0 104.5,1049.9 104.8,1051.0 105.1,1048.5 105.3,1047.4 105.6,1045.1 105.9,1043.7 106.2,1044.9 106.5,1044.0 106.8,1046.2 107.2,1048.7 107.5,1048.2 107.8,1050.5 108.1,1051.1 108.7,1050.3 109.4,1049.6 110.0,1047.5 111.2,1045.5 112.3,1044.9 112.7,1043.0 113.2,1041.0 113.6,1040.7 114.1,1040.7 114.5,1038.5 114.7,1039.2 114.9,1041.2 115.0,1041.8 115.2,1044.4 115.4,1045.3 115.8,1047.0 116.1,1050.0 116.5,1049.5 116.8,1046.8 117.1,1046.5 117.4,1045.0 117.6,1043.2 117.9,1042.5 118.2,1041.6 118.5,1039.1 118.8,1041.3 119.0,1044.2 119.3,1044.4 119.6,1045.0 119.7,1047.5 119.8,1048.5 119.9,1049.4 120.0,1050.9 120.1,1052.4 120.2,1053.4 120.3,1055.7 120.4,1056.7 120.5,1059.0 120.7,1061.2 120.8,1060.2 121.0,1062.5 121.1,1065.0 121.2,1065.7 121.4,1067.2 121.5,1068.1 121.6,1069.6 121.6,1070.1 121.7,1072.6 121.7,1073.1 121.8,1073.3 121.9,1076.0 121.9,1077.0 122.0,1079.3 122.1,1079.7 122.1,1081.7 122.2,1082.8 122.2,1083.5 122.3,1084.6 122.3,1086.9 122.4,1088.1 122.4,1089.9 122.4,1091.6 122.4,1092.6 122.5,1094.3 122.5,1094.6 122.5,1095.0 122.6,1097.3 122.6,1099.5 124.1,1099.9 125.7,1098.8 127.2,1098.0 128.7,1099.7 130.3,1099.4 131.8,1101.4 132.6,1101.1 133.4,1099.0 134.1,1105.5 134.9,1106.6 136.4,1105.9 138.0,1108.1 139.5,1110.8 140.7,1106.5 141.8,1108.5 143.0,1110.5 144.2,1109.3 145.7,1109.7 147.3,1110.4 148.8,1113.1 149.1,1109.6 149.4,1112.2 149.7,1113.6 150.0,1114.5 150.3,1116.0 151.8,1115.9 153.4,1118.7 154.9,1119.5 156.4,1117.7 158.0,1117.0 159.5,1117.3 161.1,1117.2 162.6,1119.5 164.2,1118.8 165.7,1121.0 167.3,1118.1 168.8,1119.8 170.3,1121.5 171.9,1120.0 173.4,1120.2 174.9,1118.8 176.4,1121.1 178.0,1119.6 179.5,1118.3 181.1,1118.1 182.6,1120.1 184.2,1118.9 185.7,1119.8 187.2,1122.3 188.8,1124.5 190.3,1118.6 191.9,1122.5 193.4,1122.2 195.0,1121.4 196.3,1118.8 197.6,1119.0 198.9,1118.4 200.2,1119.9 201.5,1118.7 202.8,1125.1 204.2,1119.7 205.5,1119.8 206.8,1121.3 208.1,1124.3 209.4,1118.5 210.7,1120.8 212.0,1121.2 213.4,1121.9 214.8,1121.8 216.2,1121.1 217.5,1122.0 218.9,1122.4 220.3,1122.5 221.7,1124.6 223.1,1124.3 224.5,1121.4 225.8,1122.8 227.2,1123.5 228.6,1123.1 230.0,1122.8 231.3,1121.6 232.6,1117.7 233.9,1124.2 235.2,1119.4 236.5,1126.4 237.8,1121.9 239.2,1121.8 240.5,1122.4 241.8,1122.5 243.1,1123.3 244.4,1121.5 245.7,1121.7 247.0,1125.3 248.3,1123.2 249.6,1119.1 250.9,1122.1 252.2,1124.1 253.5,1125.2 254.8,1124.9 256.2,1125.9 257.5,1120.8 258.8,1123.8 260.1,1123.2 261.4,1124.5 262.7,1126.3 264.0,1123.1 265.2,1126.9 266.5,1121.2 267.8,1124.2 269.0,1119.3 269.2,1113.4 269.4,1115.6 269.6,1118.5 269.9,1118.9 270.1,1114.6 270.3,1113.1 270.5,1118.9 270.7,1115.8 270.9,1123.1 271.1,1117.5 271.3,1121.1 271.5,1118.4 272.9,1119.6 274.3,1125.4 275.8,1122.1 277.2,1123.2 278.6,1123.0 280.0,1121.2 281.4,1116.1 282.8,1118.8 284.1,1119.0 285.5,1125.0 286.9,1122.6 288.1,1118.4 289.2,1115.8 290.4,1120.5 291.1,1120.4 291.8,1115.0 292.4,1115.2 293.1,1112.4 293.8,1115.1 294.2,1110.8 294.7,1114.4 295.1,1115.9 295.5,1118.5 296.0,1118.4 296.4,1119.1 297.5,1122.3 298.6,1117.2 299.7,1115.8 300.8,1117.3 302.1,1114.8 303.4,1115.6 304.7,1118.0 306.0,1113.4 307.4,1113.3 308.9,1117.5 310.3,1113.0 311.2,1114.1 312.0,1115.8 312.9,1115.8 313.8,1118.7 314.6,1116.6 315.4,1115.6 316.3,1113.5 317.6,1115.0 318.9,1115.4 320.2,1116.5 321.5,1117.0 322.8,1117.3 324.1,1115.1 325.4,1117.2 326.7,1114.9 327.6,1118.0 328.4,1118.9 329.3,1121.6 330.2,1120.8 331.5,1117.6 332.8,1119.7 334.1,1123.9 335.4,1124.7 336.7,1122.2 338.0,1123.8 339.3,1122.6 340.6,1122.5 341.5,1118.3 342.3,1124.6 343.1,1125.5 344.0,1127.6 345.3,1126.3 346.6,1127.9 347.9,1126.8 349.2,1127.9 350.9,1128.6 352.7,1130.7 353.3,1129.7 353.8,1126.0 354.4,1123.9 355.0,1123.6 355.5,1123.0 356.1,1124.9 356.6,1122.4 357.0,1122.6 357.4,1128.2 357.9,1128.4 359.0,1129.7 360.2,1127.2 361.3,1123.9 362.2,1126.3 363.1,1125.4 363.9,1124.0 364.8,1128.9 366.1,1131.4 367.4,1133.6 368.7,1131.1 370.0,1132.0 371.4,1127.9 372.7,1130.7 374.1,1128.7 375.5,1129.6 376.8,1128.2 378.2,1130.6 379.6,1131.6 380.9,1131.6 382.3,1132.6 383.6,1130.3 385.0,1129.0 386.3,1130.3 387.6,1132.0 389.0,1130.0 390.3,1128.4 391.6,1131.2 392.9,1131.8 394.3,1131.7 395.6,1133.0 396.9,1131.7 398.3,1131.9 399.6,1133.6 400.9,1134.9 402.2,1133.1 403.5,1133.9 404.8,1133.1 406.1,1134.1 407.4,1132.7 408.7,1133.4 410.0,1136.7 411.3,1133.0 412.6,1134.9 413.9,1134.6 415.2,1135.5 415.4,1132.0 415.6,1131.5 415.8,1130.0 416.0,1128.3 416.3,1127.8 416.5,1125.2 416.7,1124.6 416.9,1123.7 417.1,1123.9 417.3,1126.3 417.5,1126.8 417.6,1128.5 417.8,1130.5 418.0,1131.6 418.2,1132.5 418.5,1133.7 418.7,1130.5 419.0,1129.8 419.2,1127.8 419.5,1124.8 419.6,1127.6 419.6,1123.8 419.7,1122.0 419.8,1122.0 419.8,1117.7 419.9,1117.8 420.0,1120.7 420.1,1115.7 420.1,1115.7 420.2,1112.5 420.3,1111.6 420.3,1110.9 420.4,1108.8 420.5,1109.0 420.6,1107.1 420.7,1106.0 420.8,1103.9 420.8,1104.1 420.9,1101.9 421.0,1100.5 421.1,1098.4 421.2,1095.7 421.3,1094.9 421.4,1093.3 421.5,1093.2 421.6,1093.5 421.7,1090.0 421.7,1085.1 421.8,1088.0 421.9,1086.2 422.0,1083.9 422.1,1083.5 422.2,1082.7 422.3,1080.3 422.5,1080.2 422.6,1077.6 422.7,1076.6 422.8,1077.8 423.0,1073.4 423.1,1072.7 423.2,1071.4 423.3,1070.1 423.4,1068.4 423.6,1066.9 423.7,1064.9 423.8,1062.3 424.0,1061.2 424.2,1061.0 424.4,1060.5 424.6,1057.5 424.8,1058.0 425.0,1056.2 425.2,1054.8 425.4,1051.6 425.6,1051.9 426.4,1048.4 427.3,1048.4 428.1,1047.7 429.4,1048.4 430.7,1047.8 431.1,1048.6 431.6,1050.9 432.1,1050.9 432.5,1053.7 432.9,1056.9 433.4,1058.8 433.8,1058.7 434.2,1056.4 434.6,1058.1 435.1,1058.4 435.4,1057.8 435.7,1058.3 436.0,1061.4 436.2,1063.7 436.5,1063.3 436.8,1064.2 437.6,1066.5 438.5,1068.1 438.7,1070.7 438.9,1070.7 439.0,1071.9 439.2,1073.4 439.4,1074.5 439.6,1075.8 439.8,1076.4 439.9,1077.7 440.1,1080.0 440.3,1081.2 440.8,1083.7 441.3,1085.3 441.9,1085.3 442.4,1086.8 442.9,1089.1 443.4,1089.3 443.9,1092.1 444.4,1091.6 444.9,1092.6 445.4,1095.0 446.1,1096.9 446.8,1097.3 447.4,1099.8 448.1,1101.2 448.6,1101.9 449.1,1103.4 449.6,1105.0 450.1,1104.4 450.6,1107.7 451.1,1109.6 451.6,1111.5 452.1,1111.8 453.5,1113.2 454.8,1114.1 455.2,1114.3 455.6,1118.1 456.0,1119.5 456.4,1120.8 456.8,1121.9 457.7,1123.7 458.6,1127.4 459.5,1125.5 460.2,1127.8 460.8,1126.3 461.5,1130.5 462.2,1132.2 462.9,1132.1 463.6,1133.7 464.8,1134.4 466.0,1135.4 467.2,1135.9 468.4,1135.5 469.6,1136.5 471.0,1136.4 472.3,1136.9 473.6,1136.7 475.0,1137.7 476.4,1137.3 477.7,1138.2 479.0,1137.5 480.4,1139.2 481.7,1138.9 483.1,1139.5 484.4,1137.5 485.8,1138.4 487.1,1139.4 488.4,1139.8 489.8,1138.9 491.1,1138.8 492.5,1140.4 494.0,1138.9 495.4,1139.4 496.9,1140.5 498.3,1138.6 499.8,1139.9 501.2,1139.8" fill="none" stroke="#000" stroke-width="2.5" stroke-linejoin="round" stroke-linecap="round"/>
<polyline points="93.8,1065.4 95.0,1064.2 96.2,1061.2 98.1,1062.4 100.0,1060.8 102.3,1061.6 102.8,1064.4 103.4,1065.0 103.9,1065.8 104.5,1068.1 105.0,1069.9 105.3,1068.1 105.6,1065.6 105.9,1066.0 106.2,1064.3 106.5,1062.6 107.2,1061.3 107.8,1060.5 108.5,1058.3 109.1,1059.1 109.7,1062.6 110.2,1062.5 110.8,1063.9 111.2,1063.8 111.5,1062.0 111.9,1060.3 112.3,1059.1 113.4,1058.7 114.6,1057.5 115.8,1057.7 116.9,1059.2 117.7,1060.5 118.4,1063.3 119.2,1062.7 119.6,1063.7 120.0,1065.6 120.4,1068.1 120.8,1068.1 121.2,1068.8 121.4,1072.2 121.5,1072.4 121.7,1075.0 121.8,1075.0 122.0,1078.8 122.1,1078.3 122.3,1080.5 122.4,1081.8 122.5,1083.4 122.5,1084.3 122.6,1084.4 122.7,1087.4 122.8,1088.2 122.8,1090.5 122.9,1091.8 122.9,1092.7 122.9,1094.6 122.9,1096.5 122.9,1097.5 122.9,1098.7 122.9,1100.6 122.9,1101.7 122.9,1102.4 123.0,1103.8 123.1,1105.5 123.1,1107.4 123.2,1108.4 123.3,1110.7 123.3,1112.1 123.4,1113.7 123.5,1114.8 123.6,1116.4 123.8,1118.8 123.9,1119.2 124.1,1121.7 124.2,1124.0 125.7,1123.7 127.2,1123.0 128.7,1124.3 130.3,1124.0 131.8,1126.4 133.4,1122.7 134.9,1123.2 136.5,1121.8 137.7,1121.5 138.8,1124.6 139.9,1124.7 141.1,1125.3 142.6,1127.5 144.2,1128.4 145.7,1122.2 148.0,1127.9 148.8,1128.7 149.5,1131.8 150.3,1134.2 150.9,1130.7 151.4,1128.9 152.0,1128.0 153.4,1126.0 154.9,1124.9 156.4,1125.9 158.0,1126.2 159.6,1127.6 161.1,1128.8 162.6,1125.4 164.1,1127.2 165.7,1126.7 167.2,1125.7 168.8,1127.2 170.3,1125.8 171.8,1126.3 173.4,1127.5 174.9,1128.0 176.4,1126.9 178.0,1126.0 179.5,1125.8 181.1,1128.0 182.6,1127.4 184.1,1128.0 185.7,1128.0 187.2,1127.7 188.8,1124.3 190.3,1127.7 191.8,1128.7 193.4,1126.0 194.9,1127.9 196.4,1127.5 198.0,1127.5 199.4,1129.9 200.8,1128.4 202.2,1127.5 203.6,1126.2 205.0,1128.1 206.4,1129.4 207.8,1127.7 209.2,1128.6 210.6,1127.2 212.0,1124.0 213.5,1127.5 215.0,1130.0 216.5,1128.1 218.0,1129.7 219.5,1127.5 221.0,1129.8 222.5,1129.6 224.0,1129.1 225.5,1129.0 227.0,1130.8 228.5,1130.5 230.0,1130.7 231.4,1130.9 232.8,1129.7 234.2,1130.5 235.7,1131.5 237.1,1130.1 238.5,1128.4 239.9,1129.0 241.3,1129.3 242.8,1129.3 244.2,1128.3 245.6,1130.4 247.0,1129.7 248.4,1130.6 249.8,1129.5 251.2,1128.9 252.7,1133.8 254.1,1129.3 255.5,1131.3 256.9,1130.9 258.3,1131.6 259.8,1135.2 261.2,1132.7 262.6,1130.2 264.0,1132.4 265.5,1129.8 266.9,1126.0 268.4,1129.5 269.8,1131.3 271.3,1133.1 272.7,1132.5 274.2,1130.2 275.6,1134.0 277.1,1132.5 278.5,1131.8 280.0,1133.2 281.4,1131.2 282.9,1132.2 284.4,1131.2 285.8,1128.9 287.2,1131.6 288.7,1129.3 290.1,1129.3 291.6,1131.9 293.0,1132.6 294.4,1134.0 295.9,1134.0 297.3,1135.0 298.5,1134.4 299.8,1131.5 301.0,1133.2 302.3,1132.2 303.5,1131.1 304.8,1131.9 306.0,1129.0 307.4,1128.8 308.9,1130.0 310.3,1128.2 311.7,1129.5 313.2,1132.0 314.6,1132.5 316.1,1128.7 317.5,1131.9 319.0,1132.0 320.4,1132.1 321.9,1132.1 323.3,1130.7 324.7,1133.2 326.2,1132.0 327.6,1131.9 329.0,1134.0 330.5,1134.8 331.9,1133.4 333.3,1134.8 334.8,1134.5 336.2,1134.1 337.7,1137.7 339.2,1134.5 340.6,1134.5 342.0,1136.9 343.5,1136.7 344.9,1136.4 346.3,1136.2 347.8,1137.0 349.2,1139.4 350.9,1140.6 352.7,1138.7 354.4,1137.3 355.8,1136.6 357.2,1135.6 358.5,1136.6 359.9,1136.2 361.3,1135.2 362.8,1136.5 364.2,1137.2 365.6,1136.4 367.1,1136.1 368.6,1137.3 370.0,1140.5 371.5,1137.3 373.1,1136.5 374.6,1135.2 376.1,1135.7 377.7,1135.9 379.2,1136.4 380.8,1137.3 382.3,1135.7 383.7,1136.0 385.2,1138.0 386.6,1137.0 388.1,1139.3 389.5,1137.6 391.0,1138.0 392.4,1140.2 393.8,1135.8 395.3,1138.1 396.7,1140.5 398.2,1138.2 399.6,1137.7 401.0,1137.8 402.5,1138.0 403.9,1140.0 405.4,1139.6 406.8,1137.7 408.2,1137.2 409.7,1138.2 411.1,1138.0 412.6,1136.5 414.0,1138.0 415.5,1138.5 416.9,1137.6 418.3,1137.0 419.8,1136.9 421.2,1137.2 422.7,1137.8 424.1,1135.4 425.5,1136.3 427.0,1137.0 428.4,1136.7 429.9,1135.0 431.3,1133.6 432.8,1135.9 434.2,1135.6 435.7,1135.4 437.3,1135.9 438.8,1136.5 440.4,1135.0 441.9,1135.2 443.5,1135.7 445.0,1135.5 446.6,1134.6 448.1,1136.2 449.7,1136.3 451.3,1136.8 453.0,1136.9 454.6,1138.7 456.2,1137.1 457.7,1138.7 459.3,1138.9 460.8,1138.7 462.3,1138.2 463.8,1139.5 465.4,1139.3 466.9,1140.2 468.5,1139.9 470.1,1140.1 471.8,1140.3 473.4,1141.0 475.0,1139.9 476.6,1139.4 478.2,1138.0 479.9,1139.9 481.5,1139.6 483.1,1140.9 484.6,1140.6 486.2,1141.5 487.7,1139.8 489.2,1139.9 490.7,1141.0 492.3,1140.2 493.8,1140.6 495.3,1140.6 496.8,1140.9 498.2,1140.8 499.7,1141.1 501.2,1140.5" fill="none" stroke="#000" stroke-width="4.3" stroke-linejoin="round" stroke-linecap="round"/>
</svg>
</body></html>
